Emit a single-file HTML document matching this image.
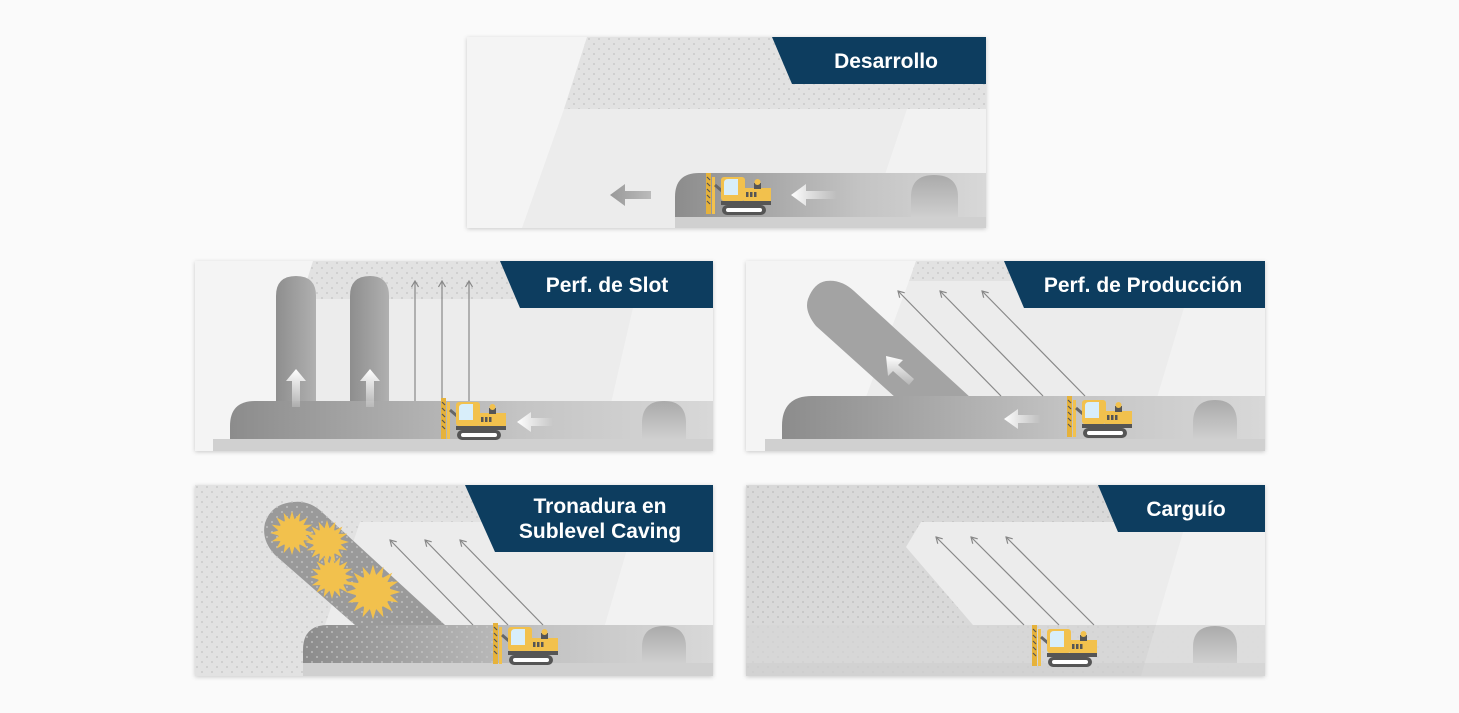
<!DOCTYPE html>
<html><head><meta charset="utf-8"><style>
html,body{margin:0;padding:0;background:#fafafa;}
svg{display:block}
text{font-family:"Liberation Sans",sans-serif;font-weight:bold;fill:#fff;}
</style></head><body>
<svg width="1459" height="713" viewBox="0 0 1459 713" xmlns="http://www.w3.org/2000/svg">
<defs>
<pattern id="dots" width="10" height="10" patternUnits="userSpaceOnUse">
<rect width="10" height="10" fill="#e2e2e2"/><circle cx="2" cy="2" r="0.9" fill="#c4c4c4"/><circle cx="7" cy="7" r="0.9" fill="#c4c4c4"/></pattern>
<pattern id="dots2" width="10" height="10" patternUnits="userSpaceOnUse">
<rect width="10" height="10" fill="#d9d9d9"/><circle cx="2" cy="2" r="0.9" fill="#bdbdbd"/><circle cx="7" cy="7" r="0.9" fill="#bdbdbd"/></pattern>
<pattern id="dots3" width="10" height="10" patternUnits="userSpaceOnUse">
<circle cx="2" cy="2" r="0.9" fill="#c8c8c8"/><circle cx="7" cy="7" r="0.9" fill="#c8c8c8"/></pattern>
<linearGradient id="tun" x1="0" x2="1" y1="0" y2="0"><stop offset="0" stop-color="#8c8c8c"/><stop offset="0.6" stop-color="#c4c4c4"/><stop offset="1" stop-color="#d8d8d8"/></linearGradient>
<linearGradient id="col" x1="0" x2="1"><stop offset="0" stop-color="#8e8e8e"/><stop offset="1" stop-color="#b0b0b0"/></linearGradient>
<linearGradient id="arch" x1="0" y1="0" x2="0" y2="1"><stop offset="0" stop-color="#aaa"/><stop offset="1" stop-color="#cfcfcf"/></linearGradient>
<linearGradient id="arrL" x1="0" x2="1"><stop offset="0" stop-color="#fff"/><stop offset="1" stop-color="#fff" stop-opacity="0"/></linearGradient>
<linearGradient id="arrU" x1="0" y1="0" x2="0" y2="1"><stop offset="0" stop-color="#fff"/><stop offset="1" stop-color="#fff" stop-opacity="0.2"/></linearGradient>
<linearGradient id="arrG" x1="0" x2="1"><stop offset="0" stop-color="#999"/><stop offset="1" stop-color="#bbb"/></linearGradient>
<filter id="sh" x="-5%" y="-5%" width="110%" height="115%"><feDropShadow dx="0" dy="1" stdDeviation="2" flood-opacity="0.2"/></filter>
<marker id="ah" markerWidth="8" markerHeight="8" refX="7" refY="4" orient="auto" markerUnits="userSpaceOnUse"><path d="M1,0.5 L7,4 L1,7.5" fill="none" stroke="#888" stroke-width="1.2"/></marker>
<g id="mach">
<rect x="0" y="0" width="5" height="41" fill="#e6b23a"/>
<path d="M1,4 l3,3 M1,10 l3,3 M1,16 l3,3 M1,22 l3,3 M1,28 l3,3" stroke="#555" stroke-width="1.2"/>
<rect x="6" y="4" width="3" height="37" fill="#f2c14e"/>
<path d="M9,12 L16,18" stroke="#666" stroke-width="3"/>
<rect x="15" y="4" width="24" height="24" rx="3" fill="#f2c14e"/>
<path d="M18,22 L18,10 Q18,6 22,6 L32,6 L32,22 Z" fill="#d8eefa"/>
<rect x="38" y="15" width="27" height="14" fill="#f2c14e"/>
<rect x="48" y="10" width="7" height="6" fill="#555"/><circle cx="51.5" cy="9" r="3" fill="#f2c14e"/>
<rect x="40" y="19" width="2.5" height="5" fill="#555"/><rect x="44" y="19" width="2.5" height="5" fill="#555"/><rect x="48" y="19" width="2.5" height="5" fill="#555"/>
<rect x="15" y="28" width="50" height="4" fill="#555"/>
<rect x="16" y="32" width="44" height="10" rx="5" fill="#555"/>
<rect x="20" y="35" width="36" height="4" rx="2" fill="#fff"/>
</g>
<g id="sun"><g fill="#f2c14e">
<circle r="14"/>
<path d="M0,-22 L3,-12 L-3,-12Z M0,22 L3,12 L-3,12Z M-22,0 L-12,3 L-12,-3Z M22,0 L12,3 L12,-3Z M15.5,-15.5 L10.6,-6.4 L6.4,-10.6Z M-15.5,15.5 L-10.6,6.4 L-6.4,10.6Z M-15.5,-15.5 L-6.4,-10.6 L-10.6,-6.4Z M15.5,15.5 L6.4,10.6 L10.6,6.4Z M8.4,-20.3 L7,-11 L2,-13Z M-8.4,20.3 L-7,11 L-2,13Z M-20.3,-8.4 L-11,-7 L-13,-2Z M20.3,8.4 L11,7 L13,2Z M20.3,-8.4 L12.5,-3 L10.5,-8Z M-20.3,8.4 L-12.5,3 L-10.5,8Z M-8.4,-20.3 L-2,-13 L-7,-11Z M8.4,20.3 L2,13 L7,11Z"/>
</g></g>
</defs>

<!-- TOP: Desarrollo -->
<g transform="translate(467,37)" filter="url(#sh)">
<rect width="519" height="191" fill="#f4f4f4"/>
<polygon points="120,0 519,0 519,72 97,72" fill="url(#dots)"/>
<polygon points="97,72 519,72 519,191 55,191" fill="#ececec"/>
<polygon points="440,72 519,72 519,191 400,191" fill="#f4f4f4" opacity="0.8"/>
<path d="M208,180 L208,160 Q208,136 232,136 L519,136 L519,180 Z" fill="url(#tun)"/>
<rect x="208" y="180" width="311" height="11" fill="#d0d0d0"/>
<path d="M444,180 L444,160 Q444,138 467,138 Q491,138 491,160 L491,180Z" fill="url(#arch)"/>
<polygon points="143,158 158,147 158,154 184,154 184,162 158,162 158,169" fill="url(#arrG)"/>
<polygon points="324,158 339,147 339,154 370,154 370,162 339,162 339,169" fill="url(#arrL)"/>
<use href="#mach" x="239" y="136"/>
<polygon points="305,0 519,0 519,47 325,47" fill="#0b3d5f"/>
<text x="419" y="31" font-size="21" text-anchor="middle">Desarrollo</text>
</g>

<!-- MID LEFT: Perf. de Slot -->
<g transform="translate(195,261)" filter="url(#sh)">
<rect width="518" height="190" fill="#f4f4f4"/>
<polygon points="118,0 518,0 518,38 106,38" fill="url(#dots)"/>
<polygon points="106,38 518,38 518,190 70,190" fill="#ececec"/>
<polygon points="440,38 518,38 518,190 405,190" fill="#f4f4f4" opacity="0.8"/>
<path d="M81,140 L81,35 Q81,15 101,15 Q121,15 121,35 L121,140Z" fill="url(#col)"/>
<path d="M155,140 L155,35 Q155,15 175,15 Q194,15 194,35 L194,140Z" fill="url(#col)"/>
<path d="M35,178 L35,165 Q35,140 60,140 L518,140 L518,178 Z" fill="url(#tun)"/>
<rect x="18" y="178" width="500" height="12" fill="#d0d0d0"/>
<path d="M447,178 L447,162 Q447,140 469,140 Q491,140 491,162 L491,178Z" fill="url(#arch)"/>
<polygon points="101,108 111,120 105,120 105,146 97,146 97,120 91,120" fill="url(#arrU)"/>
<polygon points="175,108 185,120 179,120 179,146 171,146 171,120 165,120" fill="url(#arrU)"/>
<polygon points="322,161 336,151 336,157 358,157 358,165 336,165 336,171" fill="url(#arrL)"/>
<g stroke="#888" stroke-width="1.2" marker-end="url(#ah)"><line x1="220" y1="140" x2="220" y2="20"/><line x1="247" y1="140" x2="247" y2="20"/><line x1="274" y1="140" x2="274" y2="20"/></g>
<use href="#mach" x="246" y="137"/>
<polygon points="305,0 518,0 518,47 325,47" fill="#0b3d5f"/>
<text x="412" y="31" font-size="21" text-anchor="middle">Perf. de Slot</text>
</g>

<!-- MID RIGHT: Perf. de Producción -->
<g transform="translate(746,261)" filter="url(#sh)">
<rect width="519" height="190" fill="#f4f4f4"/>
<polygon points="170,0 270,0 270,20 163,20" fill="url(#dots)"/>
<polygon points="163,20 519,20 519,190 100,190" fill="#ececec"/>
<polygon points="440,40 519,40 519,190 395,190" fill="#f4f4f4" opacity="0.8"/>
<path d="M80,20 Q95,18 108,30 L225,137 L150,137 L70,65 Q58,50 62,38 Q68,22 80,20Z" fill="#a3a3a3"/>
<path d="M36,178 L36,165 Q36,135 66,135 L519,135 L519,178 Z" fill="url(#tun)"/>
<rect x="19" y="178" width="500" height="12" fill="#d0d0d0"/>
<path d="M447,178 L447,162 Q447,139 469,139 Q491,139 491,162 L491,178Z" fill="url(#arch)"/>
<polygon points="140,95 157,99 152,104 168,118 163,124 147,110 142,115" fill="url(#arrU)"/>
<polygon points="258,158 272,148 272,154 295,154 295,162 272,162 272,168" fill="url(#arrL)"/>
<g stroke="#888" stroke-width="1.2" marker-end="url(#ah)"><line x1="255" y1="135" x2="152" y2="30"/><line x1="297" y1="135" x2="194" y2="30"/><line x1="339" y1="135" x2="236" y2="30"/></g>
<use href="#mach" x="321" y="135"/>
<polygon points="258,0 519,0 519,47 278,47" fill="#0b3d5f"/>
<text x="397" y="31" font-size="21" text-anchor="middle">Perf. de Producción</text>
</g>

<!-- BOTTOM LEFT: Tronadura -->
<g transform="translate(195,485)" filter="url(#sh)">
<rect width="518" height="191" fill="url(#dots)"/>
<polygon points="165,37 518,37 518,140 130,140" fill="#ececec"/>
<polygon points="440,37 518,37 518,191 395,191" fill="#f4f4f4" opacity="0.8"/>
<path d="M98,17 Q115,15 128,28 L250,140 L160,140 L80,70 Q66,55 70,38 Q76,19 98,17Z" fill="#9a9a9a"/>
<path d="M108,178 L108,165 Q108,140 133,140 L518,140 L518,178 Z" fill="url(#tun)"/>
<path d="M98,17 Q115,15 128,28 L250,140 L160,140 L80,70 Q66,55 70,38 Q76,19 98,17Z" fill="url(#dots3)"/>
<path d="M108,178 L108,165 Q108,140 133,140 L300,140 L300,178Z" fill="url(#dots3)"/>
<rect x="108" y="178" width="410" height="13" fill="#d0d0d0"/>
<path d="M447,178 L447,162 Q447,141 469,141 Q491,141 491,162 L491,178Z" fill="url(#arch)"/>
<g stroke="#888" stroke-width="1.2" marker-end="url(#ah)"><line x1="278" y1="140" x2="195" y2="55"/><line x1="313" y1="140" x2="230" y2="55"/><line x1="348" y1="140" x2="265" y2="55"/></g>
<use href="#sun" transform="translate(97,48)"/>
<use href="#sun" transform="translate(132,57)"/>
<use href="#sun" transform="translate(137,92)"/>
<use href="#sun" transform="translate(178,107) scale(1.25)"/>
<use href="#mach" x="298" y="138"/>
<polygon points="270,0 518,0 518,67 300,67" fill="#0b3d5f"/>
<text x="405" y="28" font-size="21" text-anchor="middle">Tronadura en</text>
<text x="405" y="53" font-size="21" text-anchor="middle">Sublevel Caving</text>
</g>

<!-- BOTTOM RIGHT: Carguío -->
<g transform="translate(746,485)" filter="url(#sh)">
<rect width="519" height="191" fill="url(#dots2)"/>
<polygon points="175,37 519,37 519,140 227,140 160,62" fill="#ececec"/>
<polygon points="440,37 519,37 519,191 395,191" fill="#f4f4f4" opacity="0.8"/>
<rect x="0" y="140" width="519" height="38" fill="#d6d6d6" opacity="0.7"/>
<rect x="0" y="178" width="519" height="13" fill="#d0d0d0" opacity="0.8"/>
<path d="M447,178 L447,162 Q447,141 469,141 Q491,141 491,162 L491,178Z" fill="url(#arch)"/>
<g stroke="#888" stroke-width="1.2" marker-end="url(#ah)"><line x1="278" y1="140" x2="190" y2="52"/><line x1="313" y1="140" x2="225" y2="52"/><line x1="348" y1="140" x2="260" y2="52"/></g>
<use href="#mach" x="286" y="140"/>
<polygon points="352,0 519,0 519,47 372,47" fill="#0b3d5f"/>
<text x="440" y="31" font-size="21" text-anchor="middle">Carguío</text>
</g>
</svg>
</body></html>
